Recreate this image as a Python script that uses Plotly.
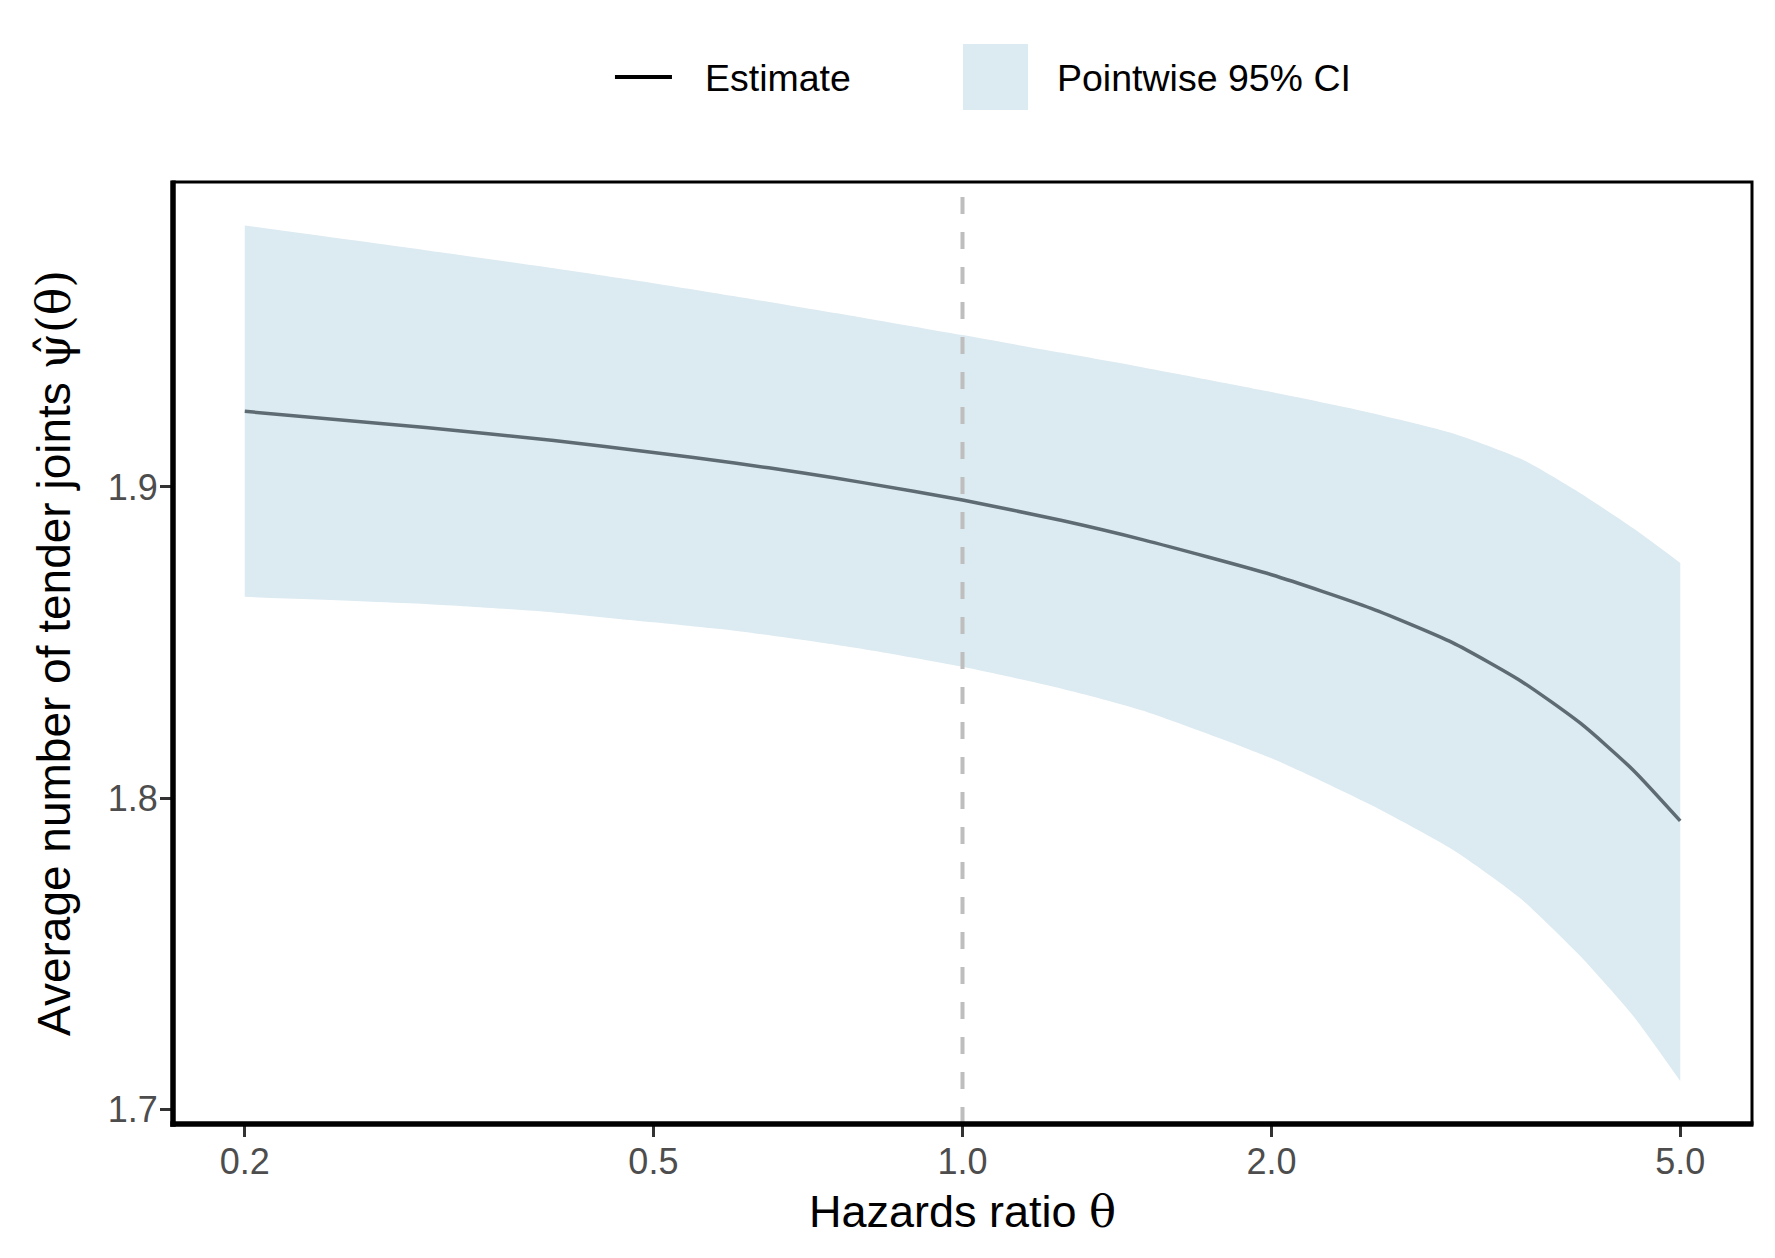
import plotly.graph_objects as go

# ---- data ----
theta = [0.2, 0.3, 0.4, 0.5, 0.6, 0.7, 0.8, 1.0, 1.25, 1.5, 2.0, 2.5, 3.0, 3.5, 4.0, 4.5, 5.0]
estimate = [1.9243, 1.9191, 1.9149, 1.9111, 1.9077, 1.9045, 1.9014, 1.8958, 1.8892, 1.8830,
            1.8718, 1.8610, 1.8500, 1.8376, 1.8240, 1.8090, 1.7927]
ci_upper = [1.9840, 1.9761, 1.9703, 1.9655, 1.9613, 1.9576, 1.9544, 1.9488, 1.9431, 1.9384,
            1.9305, 1.9238, 1.9173, 1.9090, 1.8979, 1.8867, 1.8756]
ci_lower = [1.8647, 1.8624, 1.8597, 1.8565, 1.8538, 1.8508, 1.8479, 1.8422, 1.8352, 1.8281,
            1.8128, 1.7978, 1.7835, 1.7676, 1.7491, 1.7300, 1.7091]
x_ticks = [0.2, 0.5, 1.0, 2.0, 5.0]
x_tick_labels = ["0.2", "0.5", "1.0", "2.0", "5.0"]
y_ticks = [1.7, 1.8, 1.9]
y_tick_labels = ["1.7", "1.8", "1.9"]
ref_theta = 1.0

FONT = "Liberation Sans, Arial, Helvetica, sans-serif"
GREEK = "DejaVu Serif"
BAND = "rgb(220,234,241)"
LINE = "#5E6B73"
SMOOTH = 0.6

fig = go.Figure()
fig.add_trace(go.Scatter(x=theta, y=ci_upper, mode="lines",
                         line=dict(width=0, color=BAND, shape="spline", smoothing=SMOOTH),
                         showlegend=False, hoverinfo="skip"))
fig.add_trace(go.Scatter(x=theta, y=ci_lower, mode="lines",
                         line=dict(width=0, color=BAND, shape="spline", smoothing=SMOOTH),
                         fill="tonexty", fillcolor=BAND, name="Pointwise 95% CI", showlegend=False))
fig.add_trace(go.Scatter(x=theta, y=estimate, mode="lines",
                         line=dict(width=3.5, color=LINE, shape="spline", smoothing=SMOOTH),
                         name="Estimate", showlegend=False))

# reference line at theta = 1
fig.add_shape(type="line", xref="x", yref="paper", x0=ref_theta, x1=ref_theta, y0=0, y1=1,
              line=dict(color="#BEBEBE", width=4, dash="17px,18px"), layer="above")

# panel border and thick axis lines (left and bottom)
fig.add_shape(type="rect", xref="paper", yref="paper", x0=0, x1=1, y0=0, y1=1,
              line=dict(color="black", width=3), layer="above")
fig.add_shape(type="line", xref="paper", yref="paper", x0=0, x1=0, y0=-0.003, y1=1.0015,
              line=dict(color="black", width=5.5), layer="above")
fig.add_shape(type="line", xref="paper", yref="paper", x0=-0.0017, x1=1.0009, y0=0, y1=0,
              line=dict(color="black", width=5.5), layer="above")

# manual legend (keys + labels)
fig.add_shape(type="line", xref="paper", yref="paper", x0=0.2799, x1=0.3160, y0=1.1115, y1=1.1115,
              line=dict(color="black", width=4))
fig.add_shape(type="rect", xref="paper", yref="paper", x0=0.5003, x1=0.5415, y0=1.0764, y1=1.1465,
              line=dict(width=0), fillcolor=BAND)
fig.add_annotation(text="Estimate", xref="paper", yref="paper", x=0.3357, y=1.1104,
                   xanchor="left", yanchor="middle", showarrow=False,
                   font=dict(family=FONT, size=37.5, color="black"))
fig.add_annotation(text="Pointwise 95% CI", xref="paper", yref="paper", x=0.5583, y=1.1104,
                   xanchor="left", yanchor="middle", showarrow=False,
                   font=dict(family=FONT, size=37.5, color="black"))

# axis titles
fig.add_annotation(text=f"Hazards ratio <span style='font-family:{GREEK}'>θ</span>",
                   xref="paper", yref="paper", x=0.5, y=-0.0924,
                   xanchor="center", yanchor="middle", showarrow=False,
                   font=dict(family=FONT, size=45, color="black"))
fig.add_annotation(text=f"Average number of tender joints <span style='font-family:{GREEK}'>ψ̂(θ)</span>",
                   xref="paper", yref="paper", x=-0.0754, y=0.5, textangle=-90,
                   xanchor="center", yanchor="middle", showarrow=False,
                   font=dict(family=FONT, size=46, color="black"))

fig.update_layout(
    width=1775, height=1258,
    margin=dict(l=165, r=31, t=174, b=142),
    paper_bgcolor="white", plot_bgcolor="white",
    showlegend=False,
    font=dict(family=FONT),
)
fig.update_xaxes(
    type="log", range=[-0.76886, 0.76886],
    tickvals=x_ticks, ticktext=x_tick_labels,
    showgrid=False, zeroline=False, showline=False,
    ticks="outside", ticklen=12, tickwidth=3, tickcolor="#333333",
    tickfont=dict(family=FONT, size=36, color="#4D4D4D"),
    ticklabelstandoff=-6,
)
fig.update_yaxes(
    range=[1.6953, 1.998],
    tickvals=y_ticks, ticktext=y_tick_labels,
    showgrid=False, zeroline=False, showline=False,
    ticks="outside", ticklen=12, tickwidth=3, tickcolor="#333333",
    tickfont=dict(family=FONT, size=36, color="#4D4D4D"),
    ticklabelstandoff=-5,
)

fig.write_html("out.html")
